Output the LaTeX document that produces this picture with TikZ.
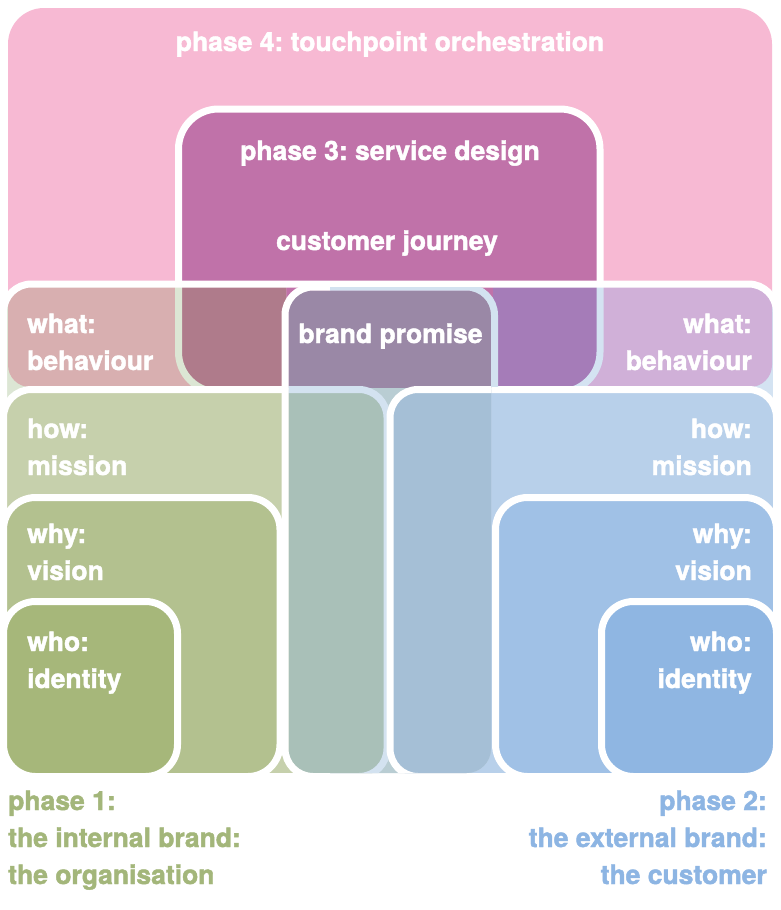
\documentclass[tikz,border=0pt]{standalone}
\usepackage{fontspec}
\setmainfont{TeX Gyre Heros}[BoldFeatures={FakeBold=1.6}]
\definecolor{cP4}{HTML}{F7B9D3}
\definecolor{cP3}{HTML}{C072A9}
\definecolor{cLwhat}{HTML}{D8AFB0}
\definecolor{cLP3}{HTML}{AF7B8B}
\definecolor{cLtint}{HTML}{DCE6D4}
\definecolor{cRwhat}{HTML}{D0B0D8}
\definecolor{cRP3}{HTML}{A57CB8}
\definecolor{cRtint}{HTML}{D4E3F2}
\definecolor{cLhow}{HTML}{C6D0AC}
\definecolor{cLwhy}{HTML}{B3C18F}
\definecolor{cLwho}{HTML}{A6B77A}
\definecolor{cRhow}{HTML}{B8D0EA}
\definecolor{cRwhy}{HTML}{A0C1E6}
\definecolor{cRwho}{HTML}{8FB6E2}
\definecolor{cBPtop}{HTML}{9A88A6}
\definecolor{cBPL}{HTML}{A9C0B8}
\definecolor{cBPR}{HTML}{A5BFD6}
\definecolor{cBPgap}{HTML}{B9CDD3}
\definecolor{cBPtint}{HTML}{D3E2F0}
\definecolor{cTxtG}{HTML}{A3B67A}
\definecolor{cTxtB}{HTML}{8DB5E3}
\tikzset{
  wb/.style={draw=white,line width=7pt},
  p4path/.style={insert path={(8,200) [rounded corners=36pt] -- (8,8) -- (772,8) -- (772,200) [rounded corners=22pt] -- (772,387) -- (8,387) -- cycle}},
  p3path/.style={insert path={[rounded corners=40pt] (178.5,109) rectangle (600,392)}},
  gpath/.style={insert path={[rounded corners=28pt] (3.5,284) rectangle (776.5,776.5)}},
  lhowpath/.style={insert path={[rounded corners=28pt] (3.5,389.5) rectangle (387,776.5)}},
  rhowpath/.style={insert path={[rounded corners=28pt] (390,389.5) rectangle (776.5,776.5)}},
  bppath/.style={insert path={[rounded corners=28pt] (285,287) rectangle (494.5,776.5)}},
  lab/.style={text=white,inner sep=0pt,font=\fontsize{26.5pt}{30pt}\selectfont\bfseries\frenchspacing},
  labL/.style={lab,anchor=base west},
  labR/.style={lab,anchor=base east},
  labC/.style={lab,anchor=base},
}
\begin{document}
\frenchspacing
\begin{tikzpicture}[x=1pt,y=-1pt]
\useasboundingbox (0,0) rectangle (780,910);
\fill[white] (0,0) rectangle (780,910);

% phase 4 background
\fill[cP4, p4path];
% phase 3 box
\path[fill=cP3, wb, p3path];

% left zone tints
\begin{scope}
  \clip[gpath];
  \clip (0,0) rectangle (286,910);
  \fill[cLtint] (0,0) rectangle (780,910);
  \fill[cLwhat, p4path];
  \path[fill=cLP3, draw=cLtint, line width=7pt, p3path];
\end{scope}
% right zone tints
\begin{scope}
  \clip[gpath];
  \clip (493,0) rectangle (780,910);
  \fill[cRtint] (0,0) rectangle (780,910);
  \fill[cRwhat, p4path];
  \path[fill=cRP3, draw=cRtint, line width=7pt, p3path];
\end{scope}
\draw[wb, gpath];

% how boxes
\path[fill=cLhow, wb, lhowpath];
\path[fill=cRhow, wb, rhowpath];
% left why / who
\path[fill=cLwhy, wb, rounded corners=32pt] (3.5,497.5) rectangle (280,776.5);
\path[fill=cLwho, wb, rounded corners=32pt] (3.5,601.5) rectangle (177.5,776.5);

% brand promise column
\begin{scope}
  \clip[rounded corners=24.5pt] (288.5,290.5) rectangle (491,773);
  \fill[cBPgap] (0,0) rectangle (780,910);
  \fill[cBPtop] (0,0) rectangle (780,388);
  \path[fill=cBPL, draw=cBPtint, line width=7pt, lhowpath];
  \path[fill=cBPR, wb, rhowpath];
\end{scope}
\begin{scope}
  \clip (0,0) rectangle (330,910);
  \draw[wb, bppath];
\end{scope}
\begin{scope}
  \clip (330,287.5) rectangle (780,386);
  \draw[draw=cBPtint, line width=7pt, bppath];
\end{scope}

% right why / who
\path[fill=cRwhy, wb, rounded corners=32pt] (495.5,497.5) rectangle (776.5,776.5);
\path[fill=cRwho, wb, rounded corners=32pt] (601.5,601.5) rectangle (776.5,776.5);

% texts
\node[labC] (t4) at (390,51) {phase 4: touchpoint orchestration};
\node[labC] (t3) at (390,160) {phase 3: service design};
\node[labC] (tcj) at (387,250) {customer journey};
\node[labC] (tbp) at (390.5,343) {brand promise};

\node[labL] (lwa) at (27,333) {what:};
\node[labL] (lwb) at (27,370) {behaviour};
\node[labL] (lha) at (27,438) {how:};
\node[labL] (lhb) at (27,475) {mission};
\node[labL] (lya) at (27,543) {why:};
\node[labL] (lyb) at (27,580) {vision};
\node[labL] (loa) at (27,651) {who:};
\node[labL] (lob) at (27,688) {identity};

\node[labR] (rwa) at (752,333) {what:};
\node[labR] (rwb) at (752,370) {behaviour};
\node[labR] (rha) at (752,438) {how:};
\node[labR] (rhb) at (752,475) {mission};
\node[labR] (rya) at (752,543) {why:};
\node[labR] (ryb) at (752,580) {vision};
\node[labR] (roa) at (752,651) {who:};
\node[labR] (rob) at (752,688) {identity};

\node[labL, text=cTxtG] (p1a) at (8,810) {phase 1:};
\node[labL, text=cTxtG] (p1b) at (8,847) {the internal brand:};
\node[labL, text=cTxtG] (p1c) at (8,884) {the organisation};
\node[labR, text=cTxtB] (p2a) at (767,810) {phase 2:};
\node[labR, text=cTxtB] (p2b) at (767,847) {the external brand:};
\node[labR, text=cTxtB] (p2c) at (767,884) {the customer};
\end{tikzpicture}
\end{document}
